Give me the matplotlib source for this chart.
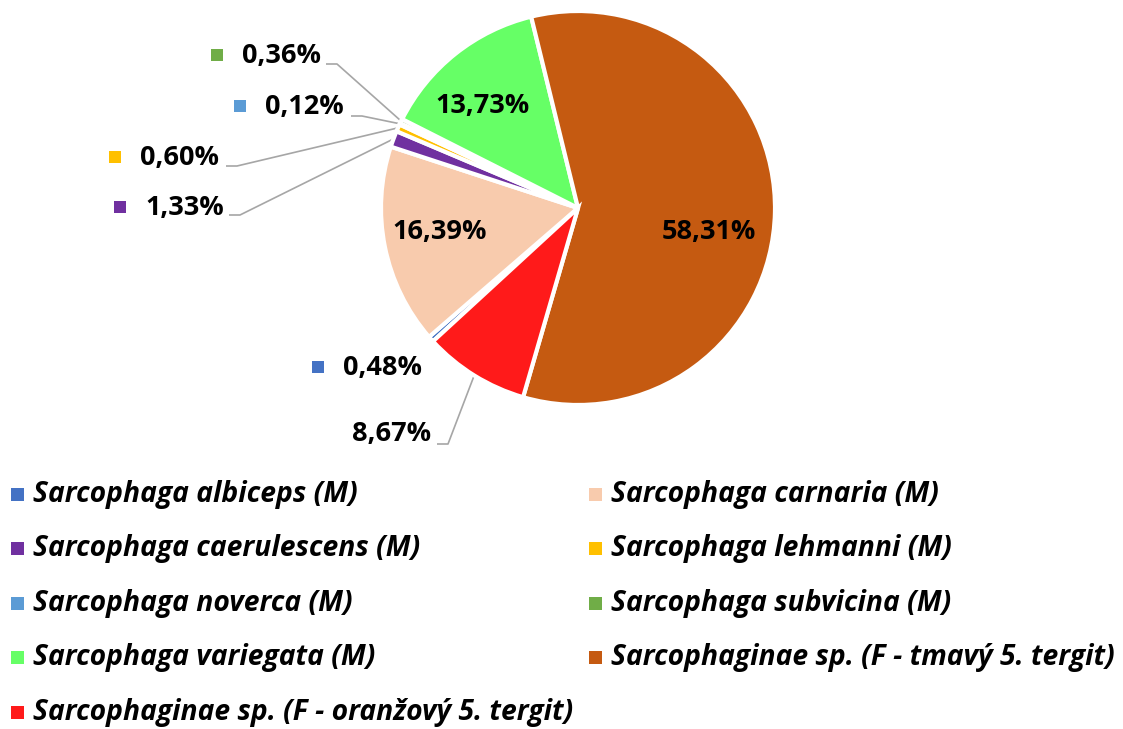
import numpy as np
import matplotlib
matplotlib.use("Agg")
import matplotlib.pyplot as plt
from matplotlib.patches import Rectangle

# ---- data ----
labels = [
    "Sarcophaga albiceps (M)",
    "Sarcophaga carnaria (M)",
    "Sarcophaga caerulescens (M)",
    "Sarcophaga lehmanni (M)",
    "Sarcophaga noverca (M)",
    "Sarcophaga subvicina (M)",
    "Sarcophaga variegata (M)",
    "Sarcophaginae sp. (F - tmavý 5. tergit)",
    "Sarcophaginae sp. (F - oranžový 5. tergit)",
]
values = [0.48, 16.39, 1.33, 0.60, 0.12, 0.36, 13.73, 58.31, 8.67]
colors = ["#4472C4", "#F8CBAD", "#7030A0", "#FFC000", "#5B9BD5",
          "#70AD47", "#66FF66", "#C55A11", "#FF1A1A"]

W, H = 1123, 729
fig = plt.figure(figsize=(W / 100, H / 100), dpi=100)
ax = fig.add_axes([0, 0, 1, 1])

FONT = "Open Sans"
cx, cy, R = 578, H - 208, 197

wedges, _ = ax.pie(values, colors=colors, startangle=222.6, counterclock=False,
                   center=(cx, cy), radius=R,
                   wedgeprops=dict(edgecolor="white", linewidth=3))
ax.set_xlim(0, W)
ax.set_ylim(0, H)
ax.set_aspect("equal")
ax.axis("off")


def fmt(v):
    return f"{v:.2f}".replace(".", ",") + "%"


def mid_point(w, frac):
    a = np.deg2rad((w.theta1 + w.theta2) / 2)
    return cx + R * frac * np.cos(a), cy + R * frac * np.sin(a)


LBL_SIZE = 19.5
LEG_SIZE = 20.3
# inside labels: text centre (px from left, px from top)
inside = {1: (440, 232), 6: (483, 106), 7: (709, 232)}
for i, (x, y) in inside.items():
    ax.text(x, H - y, fmt(values[i]), ha="center", va="center",
            fontsize=LBL_SIZE, fontweight="bold", family=FONT, color="black")

# outside labels: (text left x, text center y in px from top, show key, elbow)
outside = {
    5: (242, 56, True, (337, 64)),
    4: (265, 107, True, (362, 116)),
    3: (140, 158, True, (237, 166)),
    2: (145, 208, True, (240, 215)),
    0: (343, 368, True, None),
    8: (352, 434, False, (448, 444)),
}
for i, (tx, ty, key, elbow) in outside.items():
    ax.text(tx, H - ty, fmt(values[i]), ha="left", va="center",
            fontsize=LBL_SIZE, fontweight="bold", family=FONT, color="black")
    if key:
        s = 12
        ax.add_patch(Rectangle((tx - 25 - s / 2, H - ty + 1 - s / 2), s, s,
                               facecolor=colors[i], edgecolor="none"))
    if elbow is not None:
        ex, ey = elbow
        px, py = mid_point(wedges[i], 1.0)
        ax.plot([ex - 11, ex, px], [H - ey, H - ey, py], color="#A6A6A6",
                lw=1.2, solid_capstyle="butt", zorder=0.5)

# legend (row-wise, 2 columns)
col_x = [17, 595]
row_y = [493, 547, 602, 656, 711]
for i, lab in enumerate(labels):
    r, c = divmod(i, 2)
    x0 = col_x[c]
    y0 = H - row_y[r]
    s = 13
    ax.add_patch(Rectangle((x0 - s / 2, y0 - 1 - s / 2), s, s,
                           facecolor=colors[i], edgecolor="none"))
    ax.text(x0 + 16, y0 - 9, lab, ha="left", va="baseline", fontsize=LEG_SIZE,
            fontweight="bold", fontstyle="italic", family=FONT, color="black")

fig.savefig("out.png", dpi=100, facecolor="white")
